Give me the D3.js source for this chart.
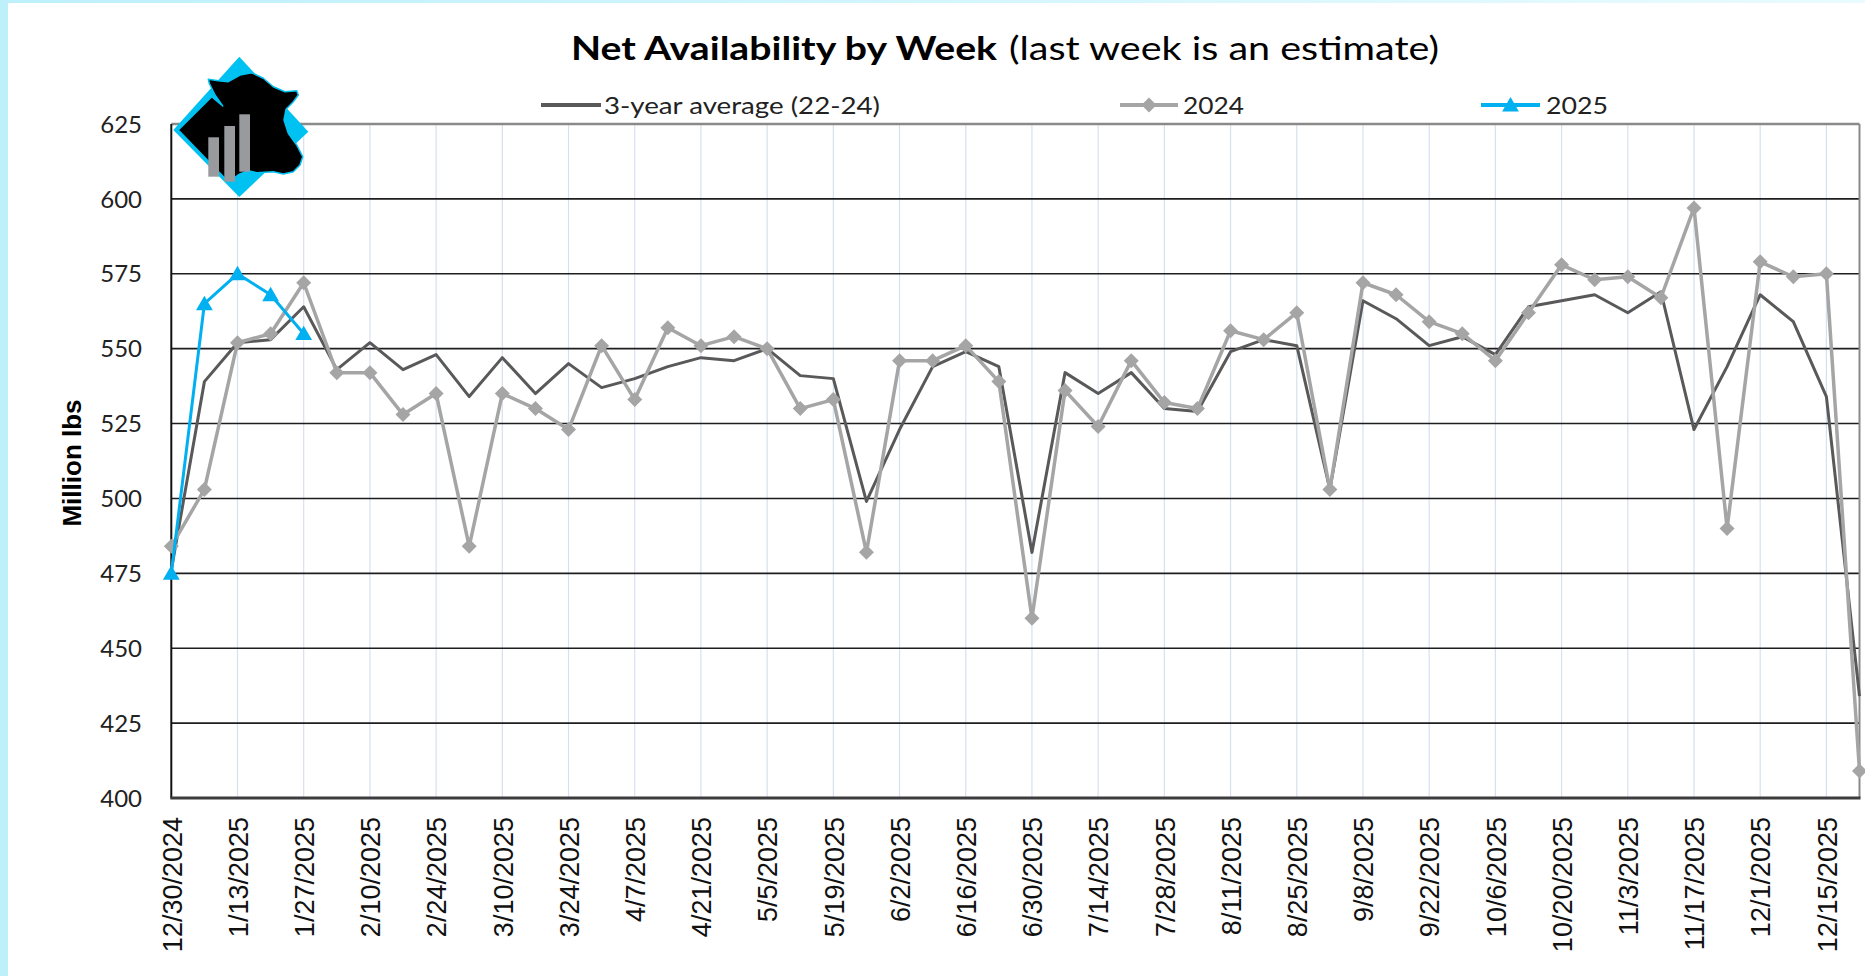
<!DOCTYPE html>
<html><head><meta charset="utf-8">
<script src="https://cdn.jsdelivr.net/npm/d3@7/dist/d3.min.js"></script>
<style>html,body{margin:0;padding:0;background:#fff;overflow:hidden}</style>
</head><body>
<script>
const weeks = ["12/30/2024","1/6/2025","1/13/2025","1/20/2025","1/27/2025","2/3/2025","2/10/2025","2/17/2025","2/24/2025","3/3/2025","3/10/2025","3/17/2025","3/24/2025","3/31/2025","4/7/2025","4/14/2025","4/21/2025","4/28/2025","5/5/2025","5/12/2025","5/19/2025","5/26/2025","6/2/2025","6/9/2025","6/16/2025","6/23/2025","6/30/2025","7/7/2025","7/14/2025","7/21/2025","7/28/2025","8/4/2025","8/11/2025","8/18/2025","8/25/2025","9/1/2025","9/8/2025","9/15/2025","9/22/2025","9/29/2025","10/6/2025","10/13/2025","10/20/2025","10/27/2025","11/3/2025","11/10/2025","11/17/2025","11/24/2025","12/1/2025","12/8/2025","12/15/2025","12/22/2025"];
const avg3yr = [476,539,552,553,564,543,552,543,548,534,547,535,545,537,540,544,547,546,550,541,540,499,523,544,549,544,482,542,535,542,530,529,549,553,551,503,566,560,551,554,548,564,566,568,562,569,523,544,568,559,534,434];
const y2024 = [484,503,552,555,572,542,542,528,535,484,535,530,523,551,533,557,551,554,550,530,533,482,546,546,551,539,460,536,524,546,532,530,556,553,562,503,572,568,559,555,546,562,578,573,574,567,597,490,579,574,575,409];
const y2025 = [475,565,575,568,555];
const yTicks = [400,425,450,475,500,525,550,575,600,625];
const tickWeeks = weeks.filter((d,i)=>i%2===0 && i<51);
const seriesNames = ["3-year average (22-24)","2024","2025"];
const titleBold = "Net Availability by Week";
const titleNormal = "(last week is an estimate)";
const yTitle = "Million lbs";

const W=1865,H=976;
const L=171.3,R=1859.5,T=124,B=798;
const C_AVG="#595959", C_24="#a5a5a5", C_25="#00b0f0";

const svg=d3.select("body").append("svg").attr("width",W).attr("height",H);
svg.append("rect").attr("width",W).attr("height",H).attr("fill","#fff");
const defs=svg.append("defs");
const g1=defs.append("linearGradient").attr("id","topg");
g1.append("stop").attr("offset","0").attr("stop-color","#bdf0fb");
g1.append("stop").attr("offset","1").attr("stop-color","#e9fbfe");
svg.append("rect").attr("x",0).attr("y",0).attr("width",W).attr("height",3).attr("fill","url(#topg)");
svg.append("rect").attr("x",0).attr("y",0).attr("width",8).attr("height",H).attr("fill","#bdf0fb");

const x=d3.scalePoint().domain(weeks).range([L,R]);
const y=d3.scaleLinear().domain([400,625]).range([B,T]);

// vertical gridlines
svg.append("g").selectAll("line").data(tickWeeks.slice(1)).join("line")
  .attr("x1",d=>x(d)).attr("x2",d=>x(d)).attr("y1",T).attr("y2",B)
  .attr("stroke","#d7e0f1").attr("stroke-width",1.2);
// horizontal gridlines
svg.append("g").selectAll("line").data(yTicks.filter(v=>v>400&&v<625)).join("line")
  .attr("x1",L).attr("x2",R).attr("y1",d=>y(d)).attr("y2",d=>y(d))
  .attr("stroke","#1e1e1e").attr("stroke-width",1.6);
// borders
svg.append("line").attr("x1",L).attr("x2",R).attr("y1",y(625)).attr("y2",y(625)).attr("stroke","#8a8a8a").attr("stroke-width",2.5);
svg.append("line").attr("x1",R).attr("x2",R).attr("y1",T).attr("y2",B).attr("stroke","#8a8a8a").attr("stroke-width",2);
svg.append("line").attr("x1",L).attr("x2",L).attr("y1",T).attr("y2",B).attr("stroke","#111").attr("stroke-width",2);
svg.append("line").attr("x1",L-1).attr("x2",R+1).attr("y1",B).attr("y2",B).attr("stroke","#3c3c3c").attr("stroke-width",3);

// y axis labels
const yAxis=d3.axisLeft(y).tickValues(yTicks).tickSize(0).tickPadding(0);
const ga=svg.append("g").attr("transform",`translate(142,0)`).call(yAxis);
ga.select(".domain").remove();
ga.selectAll("text").attr("font-family","Lato, 'Open Sans', sans-serif").attr("font-size",24).attr("fill","#222").attr("dy","0.34em");

// x axis labels
const xAxis=d3.axisBottom(x).tickValues(tickWeeks).tickSize(0).tickPadding(0);
const gx=svg.append("g").attr("transform",`translate(0,817)`).call(xAxis);
gx.select(".domain").remove();
gx.selectAll("text").attr("font-family","'Liberation Sans', Arial, sans-serif").attr("font-size",27).attr("fill","#111")
  .attr("text-anchor","end").attr("transform","rotate(-90)").attr("x",0).attr("y",0).attr("dy","0.36em");

// y title
svg.append("text").attr("transform","translate(72,463) rotate(-90)").attr("text-anchor","middle").attr("dy","0.36em")
  .attr("font-family","'Liberation Sans', Arial, sans-serif").attr("font-weight","bold").attr("font-size",26).attr("fill","#000").text(yTitle);

// title
svg.append("text").attr("x",571).attr("y",60).attr("font-family","Lato, sans-serif").attr("font-weight","bold")
  .attr("font-size",32).attr("fill","#000").attr("textLength",426).attr("lengthAdjust","spacingAndGlyphs").text(titleBold);
svg.append("text").attr("x",1009).attr("y",60).attr("font-family","Lato, sans-serif")
  .attr("font-size",32).attr("fill","#000").attr("textLength",430).attr("lengthAdjust","spacingAndGlyphs").text(titleNormal);

const diamond=(s)=>`M0,${-s}L${s},0L0,${s}L${-s},0Z`;
const triangle=(s)=>`M0,${-s}L${s*1.05},${s*0.8}L${-s*1.05},${s*0.8}Z`;

const line=d3.line().x((d,i)=>x(weeks[i])).y(d=>y(d));
svg.append("path").datum(avg3yr).attr("d",line).attr("fill","none").attr("stroke",C_AVG).attr("stroke-width",3).attr("stroke-linejoin","round");
svg.append("path").datum(y2024).attr("d",line).attr("fill","none").attr("stroke",C_24).attr("stroke-width",3.5).attr("stroke-linejoin","round");
svg.append("g").selectAll("path").data(y2024).join("path").attr("d",diamond(7.5))
  .attr("transform",(d,i)=>`translate(${x(weeks[i])},${y(d)})`).attr("fill",C_24);
svg.append("path").datum(y2025).attr("d",line).attr("fill","none").attr("stroke",C_25).attr("stroke-width",3).attr("stroke-linejoin","round");
svg.append("g").selectAll("path").data(y2025).join("path").attr("d",triangle(8))
  .attr("transform",(d,i)=>`translate(${x(weeks[i])},${y(d)})`).attr("fill",C_25);

// legend
const legY=105;
const leg=[{n:seriesNames[0],c:C_AVG,x1:541,x2:601,tx:604,tw:276,m:null},
           {n:seriesNames[1],c:C_24,x1:1120,x2:1178,tx:1183,tw:61,m:"d"},
           {n:seriesNames[2],c:C_25,x1:1481,x2:1540,tx:1546,tw:62,m:"t"}];
leg.forEach(o=>{
  svg.append("line").attr("x1",o.x1).attr("x2",o.x2).attr("y1",legY).attr("y2",legY).attr("stroke",o.c).attr("stroke-width",4);
  if(o.m==="d") svg.append("path").attr("d",diamond(7.5)).attr("transform",`translate(${(o.x1+o.x2)/2},${legY})`).attr("fill",o.c);
  if(o.m==="t") svg.append("path").attr("d",triangle(8)).attr("transform",`translate(${(o.x1+o.x2)/2},${legY})`).attr("fill",o.c);
  svg.append("text").attr("x",o.tx).attr("y",legY+8.5).attr("font-family","Lato, sans-serif").attr("font-size",24).attr("fill","#222")
    .attr("textLength",o.tw).attr("lengthAdjust","spacingAndGlyphs").text(o.n);
});

// logo
const lg=svg.append("g");
lg.append("path").attr("d","M239.3,56.7L308.3,131.7L239.3,197L173.3,130Z").attr("fill","#00c2f2");
lg.append("path").attr("d","M178.3,130L211.7,96.7L222.7,106L215,95L209.3,83.3L208.3,79.3L218.3,80.7L228.3,81.7L240,75L251.7,72.7L263.3,78.3L273.3,86.7L285,91.7L296.7,90.7L298.3,95L293.3,101.7L286,109.3L284,120L288.3,133.3L296.7,145L302.7,156.7L300,165L293.3,171.7L283.3,174L273.3,171.7L256.7,172.7L248.3,170.7L240,174L228.3,181.7Z")
  .attr("fill","#000").attr("stroke","#00c2f2").attr("stroke-width",1.5).attr("stroke-linejoin","round");
[[208.3,137.3,176.7],[224.3,126,181.7],[239.3,114.3,171.7]].forEach(b=>{
  lg.append("rect").attr("x",b[0]).attr("y",b[1]).attr("width",10.7).attr("height",b[2]-b[1]).attr("fill","#999a9e");
});
</script>
</body></html>
